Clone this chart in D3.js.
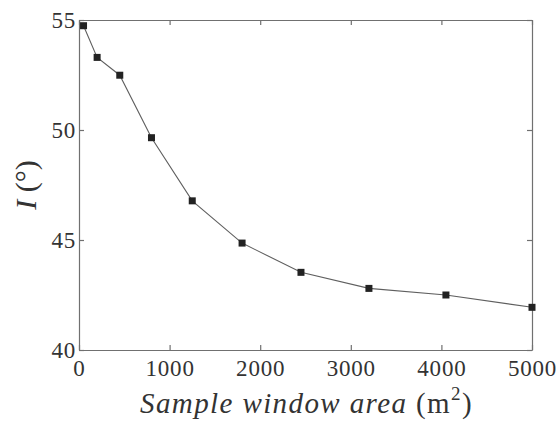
<!DOCTYPE html>
<html>
<head>
<meta charset="utf-8">
<script src="https://cdn.jsdelivr.net/npm/d3@7"></script>
<style>
  body { margin: 0; background: #fff; }
  svg { display: block; }
  .axis path, .axis line { stroke: #707070; stroke-width: 1.2; }
  .axis text { font-family: 'Liberation Serif', 'Times New Roman', serif; font-size: 23px; letter-spacing: 0.8px; fill: #333; }
  .title { font-family: 'Liberation Serif', 'Times New Roman', serif; fill: #333; }
</style>
</head>
<body>
<svg id="chart" width="557" height="422"></svg>
<script>
// Sample window area (m²) and the resulting angle I (degrees)
const areas = [50, 200, 450, 800, 1250, 1800, 2450, 3200, 4050, 5000];
const angles = [54.74, 53.30, 52.49, 49.65, 46.78, 44.86, 43.53, 42.80, 42.50, 41.94];
const xTickValues = [0, 1000, 2000, 3000, 4000, 5000];
const yTickValues = [40, 45, 50, 55];

const svg = d3.select("#chart");
const plotLeft = 79, plotRight = 532, plotTop = 20, plotBottom = 350;

const x = d3.scaleLinear().domain([0, 5000]).range([plotLeft, plotRight]);
const y = d3.scaleLinear().domain([40, 55]).range([plotBottom, plotTop]);

// Frame with inward ticks on all four sides
function frame(g) { g.attr("class", "axis").attr("font-family", null); }

svg.append("g")
  .attr("transform", `translate(0,${plotBottom})`)
  .call(d3.axisBottom(x).tickValues(xTickValues).tickSizeInner(-5).tickSizeOuter(0).tickPadding(10).tickFormat(d3.format("d")))
  .call(frame);

svg.append("g")
  .attr("transform", `translate(0,${plotTop})`)
  .call(d3.axisTop(x).tickValues(xTickValues).tickSizeInner(-5).tickSizeOuter(0).tickFormat(""))
  .call(frame);

svg.append("g")
  .attr("transform", `translate(${plotLeft},0)`)
  .call(d3.axisLeft(y).tickValues(yTickValues).tickSizeInner(-5).tickSizeOuter(0).tickPadding(3).tickFormat(d3.format("d")))
  .call(frame);

svg.append("g")
  .attr("transform", `translate(${plotRight},0)`)
  .call(d3.axisRight(y).tickValues(yTickValues).tickSizeInner(-5).tickSizeOuter(0).tickFormat(""))
  .call(frame);

// Data line and square markers
const line = d3.line().x((d, i) => x(areas[i])).y(d => y(d));
svg.append("path")
  .datum(angles)
  .attr("d", line)
  .attr("fill", "none")
  .attr("stroke", "#5f5f5f")
  .attr("stroke-width", 1.1);

const m = 7;
svg.selectAll("rect.marker")
  .data(angles)
  .join("rect")
  .attr("class", "marker")
  .attr("x", (d, i) => x(areas[i]) - m / 2)
  .attr("y", d => y(d) - m / 2)
  .attr("width", m)
  .attr("height", m)
  .attr("fill", "#222");

// Axis titles
const xt = svg.append("text")
  .attr("class", "title")
  .attr("x", (plotLeft + plotRight) / 2 + 1)
  .attr("y", 413)
  .attr("text-anchor", "middle")
  .attr("font-size", 29)
  .attr("letter-spacing", "1.4px");
xt.append("tspan").attr("font-style", "italic").text("Sample window area ");
xt.append("tspan").text("(m");
xt.append("tspan").attr("font-size", 19).attr("dy", -13).text("2");
xt.append("tspan").attr("dy", 13).text(")");

const yt = svg.append("text")
  .attr("class", "title")
  .attr("transform", "translate(36,185) rotate(-90)")
  .attr("text-anchor", "middle")
  .attr("font-size", 30);
yt.append("tspan").attr("font-style", "italic").text("I");
yt.append("tspan").text(" (°)");
</script>
</body>
</html>
